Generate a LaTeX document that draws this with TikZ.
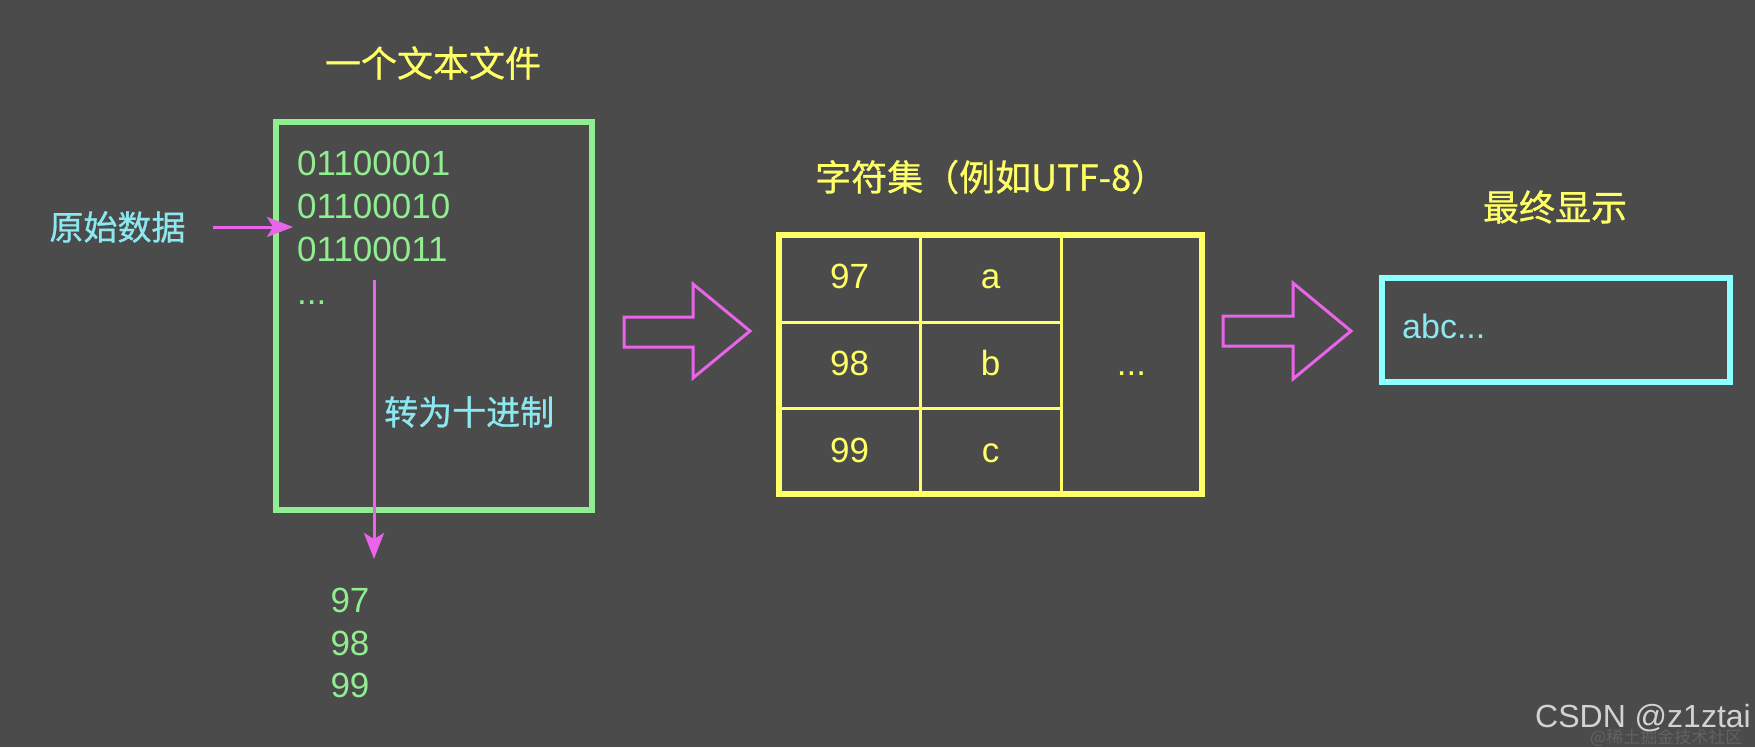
\documentclass[tikz,border=0pt]{standalone}
\usepackage{fontspec}
\setmainfont{Liberation Sans}
\newfontfamily\cjk[FakeBold=0.8]{Noto Sans CJK SC}
\newfontfamily\cjkplain{Noto Sans CJK SC}
\usetikzlibrary{arrows.meta}
\definecolor{bg}{RGB}{75,75,75}
\definecolor{grn}{RGB}{144,238,144}
\definecolor{yel}{RGB}{255,255,102}
\definecolor{cyantext}{RGB}{140,232,240}
\definecolor{cyanbox}{RGB}{140,255,255}
\definecolor{mag}{RGB}{232,100,232}
\definecolor{wm}{RGB}{210,210,210}
\definecolor{wmfaint}{RGB}{98,98,98}
\tikzset{
  cjklabel/.style={font=\cjk\fontsize{34}{40}\selectfont, text=cyantext, inner sep=0pt},
  cjktitle/.style={font=\cjk\fontsize{36}{42}\selectfont, text=yel, inner sep=0pt},
  numtext/.style={font=\fontsize{35}{42}\selectfont, inner sep=0pt},
  flow/.style={draw=mag, line width=3pt, -{Stealth[length=26pt,width=20pt,inset=6pt]}},
  hollow/.style={draw=mag, line width=3pt, line join=miter},
  framebox/.style={line width=6pt, inner sep=0pt},
  gridline/.style={draw=yel, line width=3pt}
}
\begin{document}
\begin{tikzpicture}[x=1pt,y=-1pt]
\useasboundingbox (0,0) rectangle (1755,747);
\fill[bg] (0,0) rectangle (1755,747);

% text file
\node[cjktitle] (t1) at (433,63) {一个文本文件};
\node[framebox, draw=grn, minimum width=316pt, minimum height=388pt] (file) at (434,316) {};
\node[numtext, text=grn, anchor=base west] (b1) at (297,175) {01100001};
\node[numtext, text=grn, anchor=base west] (b2) at (297,218) {01100010};
\node[numtext, text=grn, anchor=base west] (b3) at (297,261) {01100011};
\node[numtext, text=grn, anchor=base west] (b4) at (297,304) {...};

\node[cjklabel] (raw) at (117.5,227) {原始数据};
\coordinate (rawtip) at (293,227);
\draw[flow, shorten <=27pt] (raw.east) -- (rawtip);

\coordinate (convtop) at (374,280);
\coordinate (convtip) at (374,559);
\draw[flow] (convtop) -- (convtip);
\node[cjklabel, anchor=west] (conv) at (384,412) {转为十进制};

\node[numtext, text=grn, anchor=base] (d1) at (350,612.5) {97};
\node[numtext, text=grn, anchor=base] (d2) at (350,655.5) {98};
\node[numtext, text=grn, anchor=base] (d3) at (350,697.5) {99};

% first hollow arrow
\draw[hollow] (624,317) -- (693,317) -- (693,284) -- (750,331) -- (693,378) -- (693,347) -- (624,347) -- cycle;

% charset table
\node[cjktitle, anchor=west] (t2) at (815,177) {字符集（例如UTF-8）};
\node[framebox, line width=5.5pt, draw=yel, minimum width=423pt, minimum height=259pt] (table) at (990.5,364.5) {};
\draw[gridline] (920,235) -- (920,494);
\draw[gridline] (1061,235) -- (1061,494);
\draw[gridline] (779,322) -- (1061,322);
\draw[gridline] (779,408) -- (1061,408);
\node[numtext, text=yel, anchor=base] (c97) at (849.5,288) {97};
\node[numtext, text=yel, anchor=base] (c98) at (849.5,375) {98};
\node[numtext, text=yel, anchor=base] (c99) at (849.5,462) {99};
\node[numtext, text=yel, anchor=base] (ca) at (990.5,288) {a};
\node[numtext, text=yel, anchor=base] (cb) at (990.5,375) {b};
\node[numtext, text=yel, anchor=base] (cc) at (990.5,462) {c};
\node[numtext, text=yel, anchor=base] (cdots) at (1131.5,375) {...};

% second hollow arrow
\draw[hollow] (1223,316) -- (1293,316) -- (1293,283) -- (1351,331) -- (1293,379) -- (1293,346) -- (1223,346) -- cycle;

% final display
\node[cjktitle] (t3) at (1555,207) {最终显示};
\node[framebox, draw=cyanbox, minimum width=348pt, minimum height=103.5pt] (disp) at (1556,330) {};
\node[font=\fontsize{34}{40}\selectfont, text=cyantext, inner sep=0pt, anchor=base west] (abc) at (1402,338) {abc...};

% watermark
\node[font=\cjkplain\fontsize{17}{20}\selectfont, text=wmfaint, inner sep=0pt, anchor=base west] (wm2) at (1590,743) {@稀土掘金技术社区};
\node[font=\fontsize{32}{38}\selectfont, text=wm, inner sep=0pt, anchor=base west] (wm1) at (1535,727) {CSDN @z1ztai};
\end{tikzpicture}
\end{document}
